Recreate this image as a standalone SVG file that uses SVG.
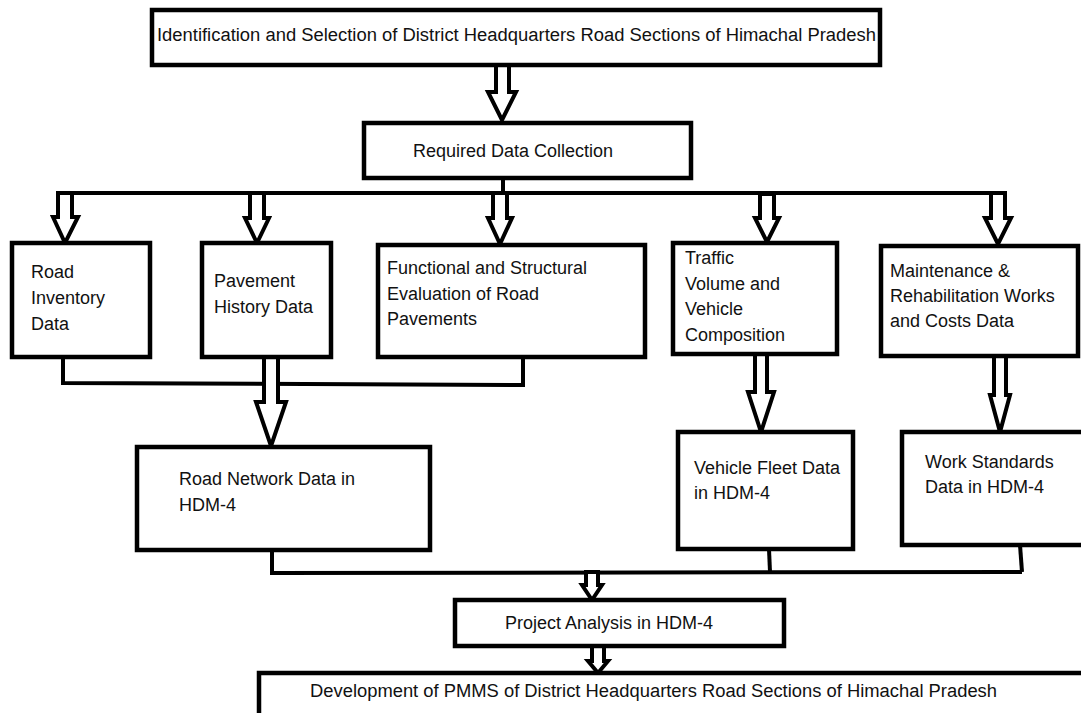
<svg xmlns="http://www.w3.org/2000/svg" width="1081" height="713" viewBox="0 0 1081 713">
<style>
  .box { fill: #ffffff; stroke: #000; stroke-width: 4.5; }
  .arr { fill: #ffffff; stroke: #000; stroke-width: 4; stroke-linejoin: miter; }
  .ln { fill: none; stroke: #000; stroke-width: 4; stroke-linejoin: miter; }
  text { font-family: "Liberation Sans", Arial, sans-serif; font-size: 18px; fill: #111; }
</style>
<rect width="1081" height="713" fill="#ffffff"/>

<g id="connectors">
  <path class="ln" d="M503 178 V193"/>
  <path class="ln" d="M58 193 H1000"/>
  <path class="ln" d="M63 357 V383 L523 385 V357"/>
  <path class="ln" d="M272 550 V573 L1022 572"/>
  <path class="ln" d="M769 549 L770 572"/>
  <path class="ln" d="M1020 545 L1022 572"/>
  <path class="arr" d="M496 65 V92 H488 L502 120 L516 92 H509 V65 Z"/>
  <path class="arr" d="M58 193 V217 H53 L65 243 L78 217 H72 V193 Z"/>
  <path class="arr" d="M250 193 V218 H245 L257 243 L269 218 H264 V193 Z"/>
  <path class="arr" d="M493 193 V218 H488 L500 244 L512 218 H507 V193 Z"/>
  <path class="arr" d="M760 194 V218 H755 L767 242 L779 218 H774 V194 Z"/>
  <path class="arr" d="M991 193 V218 H985 L998 244 L1011 218 H1005 V193 Z"/>
  <path class="arr" d="M264 355 V402 H256 L271 446 L286 402 H278 V355 Z"/>
  <path class="arr" d="M755 354 V392 H748 L761 432 L774 392 H767 V354 Z"/>
  <path class="arr" d="M994 356 V395 H990 L1000 432 L1010 395 H1006 V356 Z"/>
  <path class="arr" d="M586 572 V585 H582 L592 600 L602 585 H598 V572 Z"/>
  <path class="arr" d="M592 646 V661 H588 L598 673 L608 661 H604 V646 Z"/>
</g>

<g id="n-top">
  <rect class="box" x="152" y="10" width="728" height="55"/>
  <text x="157" y="41" textLength="719" lengthAdjust="spacingAndGlyphs">Identification and Selection of District Headquarters Road Sections of Himachal Pradesh</text>
</g>
<g id="n-required">
  <rect class="box" x="364" y="123" width="327" height="55"/>
  <text x="413" y="157">Required Data Collection</text>
</g>
<g id="n-roadinv">
  <rect class="box" x="12" y="243" width="138" height="114"/>
  <text x="31" y="278">Road</text>
  <text x="31" y="304">Inventory</text>
  <text x="31" y="330">Data</text>
</g>
<g id="n-pavement">
  <rect class="box" x="202" y="243" width="129" height="114"/>
  <text x="214" y="287">Pavement</text>
  <text x="214" y="313">History Data</text>
</g>
<g id="n-functional">
  <rect class="box" x="378" y="245" width="267" height="112"/>
  <text x="387" y="274">Functional and Structural</text>
  <text x="387" y="300">Evaluation of Road</text>
  <text x="387" y="325">Pavements</text>
</g>
<g id="n-traffic">
  <rect class="box" x="673" y="243" width="164" height="111"/>
  <text x="685" y="264">Traffic</text>
  <text x="685" y="290">Volume and</text>
  <text x="685" y="315">Vehicle</text>
  <text x="685" y="341">Composition</text>
</g>
<g id="n-maint">
  <rect class="box" x="881" y="246" width="197" height="110"/>
  <text x="890" y="277">Maintenance &amp;</text>
  <text x="890" y="302">Rehabilitation Works</text>
  <text x="890" y="327">and Costs Data</text>
</g>
<g id="n-roadnet">
  <rect class="box" x="137" y="447" width="293" height="103"/>
  <text x="179" y="485">Road Network Data in</text>
  <text x="179" y="511">HDM-4</text>
</g>
<g id="n-vehicle">
  <rect class="box" x="678" y="432" width="175" height="117"/>
  <text x="694" y="474">Vehicle Fleet Data</text>
  <text x="694" y="499">in HDM-4</text>
</g>
<g id="n-work">
  <rect class="box" x="902" y="432" width="185" height="113"/>
  <text x="925" y="468">Work Standards</text>
  <text x="925" y="493">Data in HDM-4</text>
</g>
<g id="n-project">
  <rect class="box" x="455" y="600" width="329" height="46"/>
  <text x="505" y="629">Project Analysis in HDM-4</text>
</g>
<g id="n-bottom">
  <rect class="box" x="259" y="673" width="840" height="60"/>
  <text x="310" y="697" textLength="687" lengthAdjust="spacingAndGlyphs">Development of PMMS of District Headquarters Road Sections of Himachal Pradesh</text>
</g>
</svg>
